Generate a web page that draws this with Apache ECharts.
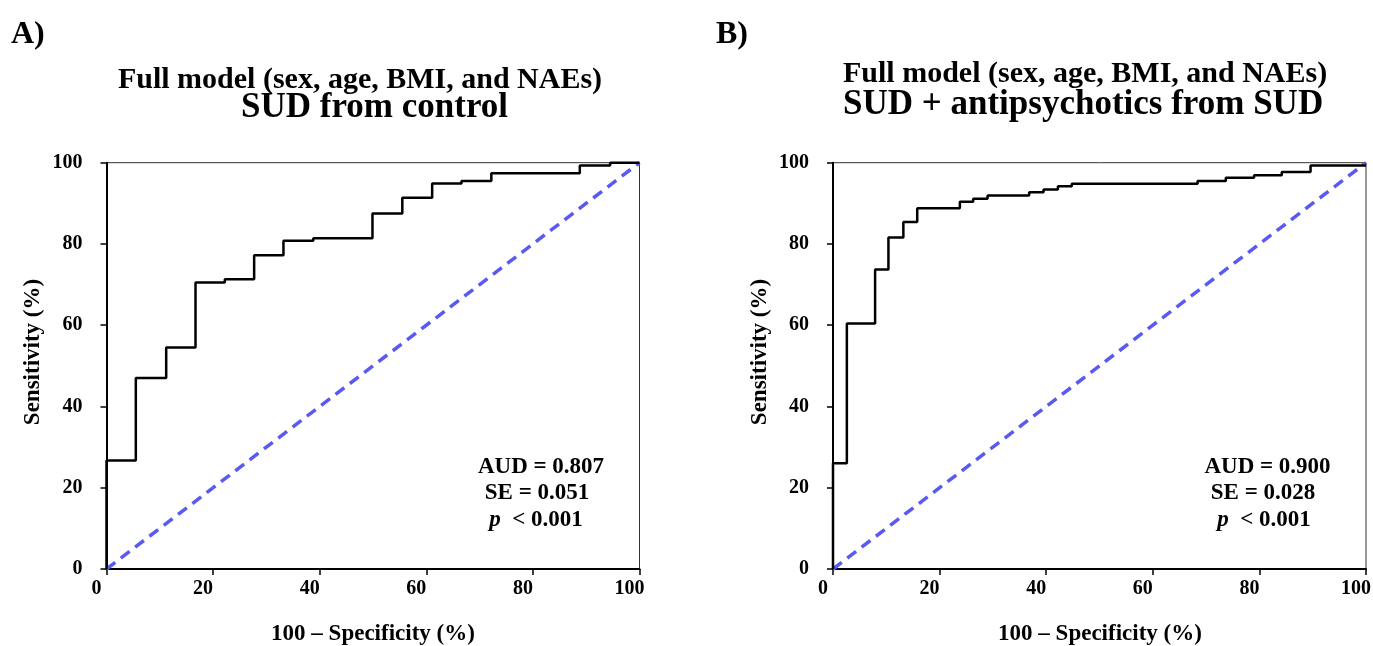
<!DOCTYPE html>
<html>
<head>
<meta charset="utf-8">
<title>ROC curves</title>
<script src="https://cdn.jsdelivr.net/npm/echarts@6/dist/echarts.min.js"></script>
<style>
    html, body { margin: 0; padding: 0; background: #fff; }
    #main { width: 1373px; height: 646px; }
</style>
</head>
<body>
<div id="main"></div>
<script>
    // A) SUD from control - step corners of the ROC curve (100 - specificity, sensitivity)
    var fprA = [0, 0, 5.5, 11.2, 16.7, 22.2, 27.7, 33.2, 38.8, 49.9, 55.5, 61.1, 66.6, 72.2, 88.8, 94.5, 100];
    var tprA = [0, 26.7, 47.0, 54.5, 70.5, 71.3, 77.2, 80.8, 81.4, 87.5, 91.4, 94.9, 95.5, 97.4, 99.3, 100, 100];

    // B) SUD + antipsychotics from SUD
    var fprB = [0, 0, 2.6, 7.9, 10.4, 13.2, 15.8, 23.8, 26.3, 29.0, 36.8, 39.5, 42.2, 44.8, 68.4, 73.7, 79.0, 84.2, 89.6, 100];
    var tprB = [0, 26.0, 60.4, 73.7, 81.6, 85.4, 88.8, 90.4, 91.1, 91.9, 92.7, 93.4, 94.2, 94.8, 95.5, 96.3, 96.9, 97.7, 99.3, 99.3];

    // reference (chance) line
    var chanceX = [0, 100];
    var chanceY = [0, 100];

    var statsA = ['AUD = 0.807', 'SE = 0.051', '< 0.001'];
    var statsB = ['AUD = 0.900', 'SE = 0.028', '< 0.001'];

    var serif = '"Liberation Serif", "DejaVu Serif", serif';

    function pairs(xs, ys) {
        return xs.map(function (x, i) { return [x, ys[i]]; });
    }

    function valueAxis(idx) {
        return {
            type: 'value',
            gridIndex: idx,
            min: 0,
            max: 100,
            interval: 20,
            splitLine: { show: false },
            axisLine: { show: true, lineStyle: { color: '#000', width: 2 } },
            axisTick: { show: true, length: 6, lineStyle: { color: '#000', width: 1.5 } },
            axisLabel: {
                color: '#000',
                fontFamily: serif,
                fontWeight: 'bold',
                fontSize: 20
            }
        };
    }

    function txt(text, x, y, size, align, extra) {
        var el = {
            type: 'text',
            x: x,
            y: y,
            style: {
                text: text,
                fill: '#000',
                fontFamily: serif,
                fontWeight: 'bold',
                fontSize: size,
                textAlign: align,
                textVerticalAlign: 'middle'
            }
        };
        if (extra) {
            for (var k in extra) el[k] = extra[k];
        }
        return el;
    }

    function pText(text, x, y) {
        var el = txt('{i|p}  ' + text, x, y, 23, 'center');
        el.style.rich = {
            i: { fontFamily: serif, fontWeight: 'bold', fontStyle: 'italic', fontSize: 23, fill: '#000' }
        };
        return el;
    }

    var xAxes = [valueAxis(0), valueAxis(1)];
    xAxes.forEach(function (a) {
        a.axisLabel.margin = 10;
        a.axisLabel.padding = [0, 20, 0, 0];
    });
    var yAxes = [valueAxis(0), valueAxis(1)];
    yAxes.forEach(function (a) { a.axisLabel.margin = 24; });

    var chart = echarts.init(document.getElementById('main'));
    var option = {
        animation: false,
        backgroundColor: '#fff',
        grid: [
            { left: 106.5, top: 162.7, width: 533, height: 406.3, show: true, borderColor: '#333', borderWidth: 1, outerBoundsMode: 'none' },
            { left: 833, top: 162.7, width: 533, height: 406.3, show: true, borderColor: '#333', borderWidth: 1, outerBoundsMode: 'none' }
        ],
        xAxis: xAxes,
        yAxis: yAxes,
        series: [
            {
                type: 'line', xAxisIndex: 0, yAxisIndex: 0,
                data: pairs(chanceX, chanceY),
                showSymbol: false, clip: false,
                lineStyle: { color: '#5a5af2', width: 3.5, type: [11, 7] }
            },
            {
                type: 'line', xAxisIndex: 0, yAxisIndex: 0,
                data: pairs(fprA, tprA),
                step: 'end', showSymbol: false, clip: false,
                lineStyle: { color: '#000', width: 2.5 }
            },
            {
                type: 'line', xAxisIndex: 1, yAxisIndex: 1,
                data: pairs(chanceX, chanceY),
                showSymbol: false, clip: false,
                lineStyle: { color: '#5a5af2', width: 3.5, type: [11, 7] }
            },
            {
                type: 'line', xAxisIndex: 1, yAxisIndex: 1,
                data: pairs(fprB, tprB),
                step: 'end', showSymbol: false, clip: false,
                lineStyle: { color: '#000', width: 2.5 }
            }
        ],
        graphic: [
            // panel labels
            txt('A)', 11, 35, 32, 'left'),
            txt('B)', 716, 35, 32, 'left'),
            // titles
            txt('Full model (sex, age, BMI, and NAEs)', 360, 80, 30, 'center'),
            txt('SUD from control', 374.5, 108, 35, 'center'),
            txt('Full model (sex, age, BMI, and NAEs)', 843, 74, 30, 'left'),
            txt('SUD + antipsychotics from SUD', 843, 105, 35, 'left'),
            // axis names
            txt('Sensitivity (%)', 33, 352, 23, 'center', { rotation: Math.PI / 2 }),
            txt('Sensitivity (%)', 760, 352, 23, 'center', { rotation: Math.PI / 2 }),
            txt('100 \u2013 Specificity (%)', 373, 634, 23, 'center'),
            txt('100 \u2013 Specificity (%)', 1100, 634, 23, 'center'),
            // statistics
            txt(statsA[0], 541, 467, 23, 'center'),
            txt(statsA[1], 537, 493.5, 23, 'center'),
            pText(statsA[2], 536, 520),
            txt(statsB[0], 1267.5, 467, 23, 'center'),
            txt(statsB[1], 1263, 493.5, 23, 'center'),
            pText(statsB[2], 1264, 520)
        ]
    };
    chart.setOption(option);
</script>
</body>
</html>
